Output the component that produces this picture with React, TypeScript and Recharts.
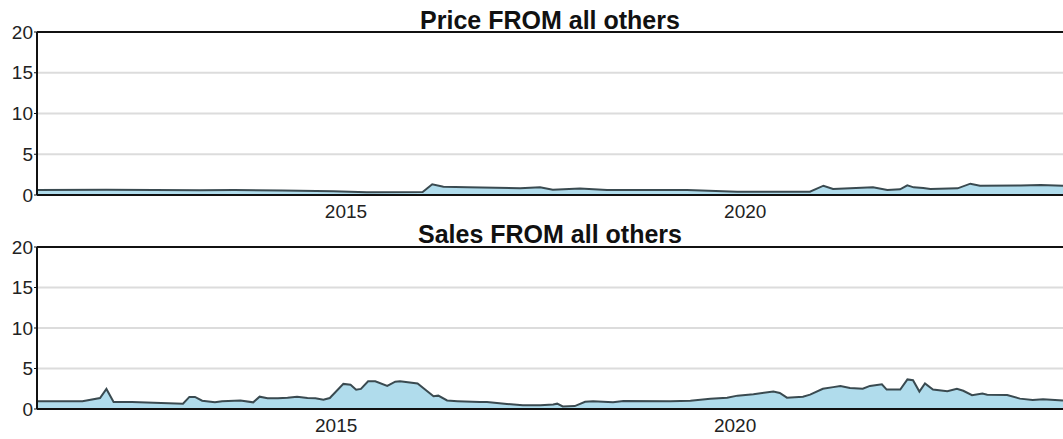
import { Area, AreaChart, CartesianGrid, ReferenceLine, XAxis, YAxis } from 'recharts'

// decimal year positions
const priceYears = [
  2011.13, 2012.0, 2012.6, 2013.17, 2013.6, 2014.2, 2014.84, 2015.26, 2015.96, 2016.08,
  2016.22, 2016.52, 2017.18, 2017.43, 2017.59, 2017.93, 2018.27, 2019.27, 2019.9, 2020.81,
  2020.98, 2021.1, 2021.6, 2021.78, 2021.94, 2022.03, 2022.11, 2022.23, 2022.32, 2022.66,
  2022.82, 2022.94, 2023.45, 2023.7, 2023.98,
]
const priceValues = [
  0.62, 0.64, 0.6, 0.58, 0.62, 0.55, 0.45, 0.33, 0.37, 1.31,
  1.02, 0.94, 0.84, 0.94, 0.65, 0.8, 0.61, 0.61, 0.41, 0.41,
  1.14, 0.73, 0.94, 0.61, 0.7, 1.18, 0.94, 0.86, 0.73, 0.82,
  1.39, 1.14, 1.18, 1.23, 1.15,
]

const salesYears = [
  2011.25, 2011.82, 2012.04, 2012.12, 2012.21, 2012.44, 2013.08, 2013.16, 2013.23, 2013.32,
  2013.48, 2013.57, 2013.8, 2013.96, 2014.04, 2014.14, 2014.27, 2014.39, 2014.51, 2014.64,
  2014.74, 2014.84, 2014.92, 2015.09, 2015.18, 2015.25, 2015.31, 2015.4, 2015.49, 2015.64,
  2015.74, 2015.8, 2016.02, 2016.22, 2016.28, 2016.39, 2016.52, 2016.8, 2016.89, 2017.14,
  2017.34, 2017.56, 2017.72, 2017.77, 2017.84, 2017.99, 2018.12, 2018.22, 2018.47, 2018.6,
  2019.19, 2019.44, 2019.69, 2019.9, 2020.03, 2020.23, 2020.48, 2020.56, 2020.65, 2020.85,
  2020.94, 2021.1, 2021.23, 2021.32, 2021.44, 2021.6, 2021.69, 2021.84, 2021.9, 2022.07,
  2022.16, 2022.23, 2022.31, 2022.38, 2022.48, 2022.66, 2022.78, 2022.86, 2022.97, 2023.1,
  2023.16, 2023.41, 2023.57, 2023.73, 2023.86, 2024.11,
]
const salesValues = [
  0.95, 0.95, 1.36, 2.48, 0.87, 0.87, 0.66, 1.49, 1.49, 1.03,
  0.82, 0.97, 1.05, 0.82, 1.52, 1.32, 1.32, 1.4, 1.52, 1.36,
  1.32, 1.15, 1.36, 3.1, 3.0, 2.39, 2.48, 3.42, 3.42, 2.85,
  3.37, 3.42, 3.14, 1.57, 1.65, 1.05, 0.97, 0.85, 0.85, 0.62,
  0.45, 0.45, 0.57, 0.66, 0.32, 0.36, 0.9, 0.95, 0.82, 0.98,
  0.95, 1.03, 1.28, 1.4, 1.65, 1.82, 2.15, 1.98, 1.4, 1.52,
  1.77, 2.5, 2.7, 2.85, 2.6, 2.5, 2.85, 3.06, 2.4, 2.4,
  3.65, 3.55, 2.15, 3.15, 2.4, 2.2, 2.5, 2.25, 1.7, 1.9,
  1.77, 1.73, 1.28, 1.1, 1.2, 1.05,
]

const yTicks = [0, 5, 10, 15, 20]
const xTicks = [2015, 2020]

const priceData = priceYears.map((t, i) => ({ t, v: priceValues[i] }))
const salesData = salesYears.map((t, i) => ({ t, v: salesValues[i] }))

const font = '"Liberation Sans", Arial, sans-serif'
const tickStyle = { fontSize: 19, fill: '#222', fontFamily: font }

interface PanelProps {
  data: { t: number; v: number }[]
  domain: [number, number]
  height: number
  top: number
  xHeight: number
}

function Panel({ data, domain, height, top, xHeight }: PanelProps) {
  return (
    <AreaChart width={1063} height={height} data={data} margin={{ top, right: 0, left: 0, bottom: 0 }}>
      <CartesianGrid vertical={false} stroke="#dcdcdc" strokeWidth={2} />
      <XAxis
        dataKey="t"
        type="number"
        domain={domain}
        allowDataOverflow
        ticks={xTicks}
        tickFormatter={(v) => String(Math.round(v))}
        tick={tickStyle}
        tickLine={false}
        tickSize={6}
        tickMargin={4}
        height={xHeight}
        axisLine={{ stroke: '#111', strokeWidth: 2 }}
      />
      <YAxis
        type="number"
        domain={[0, 20]}
        ticks={yTicks}
        tick={tickStyle}
        tickSize={3}
        tickMargin={1}
        tickLine={{ stroke: '#111' }}
        width={37}
        axisLine={{ stroke: '#111', strokeWidth: 2 }}
      />
      <ReferenceLine y={20} stroke="#111" strokeWidth={2} />
      <Area
        type="linear"
        dataKey="v"
        fill="#b0dcec"
        fillOpacity={1}
        stroke="#3a4a50"
        strokeWidth={2}
        dot={false}
        activeDot={false}
        isAnimationActive={false}
      />
    </AreaChart>
  )
}

const titleStyle = {
  position: 'absolute' as const,
  left: 37,
  width: 1026,
  textAlign: 'center' as const,
  fontFamily: font,
  fontWeight: 'bold' as const,
  fontSize: 25,
  lineHeight: '25px',
  color: '#111',
}

export default function App() {
  return (
    <div style={{ position: 'absolute', left: 0, top: 0, width: 1063, height: 439, background: '#fff' }}>
      <div style={{ position: 'absolute', left: 0, top: 0 }}>
        <Panel data={priceData} domain={[2011.13, 2023.98]} height={235} top={32} xHeight={40} />
      </div>
      <div style={{ position: 'absolute', left: 0, top: 219 }}>
        <Panel data={salesData} domain={[2011.25, 2024.11]} height={220} top={28} xHeight={30} />
      </div>
      <div style={{ ...titleStyle, top: 8 }}>Price FROM all others</div>
      <div style={{ ...titleStyle, top: 222 }}>Sales FROM all others</div>
    </div>
  )
}
